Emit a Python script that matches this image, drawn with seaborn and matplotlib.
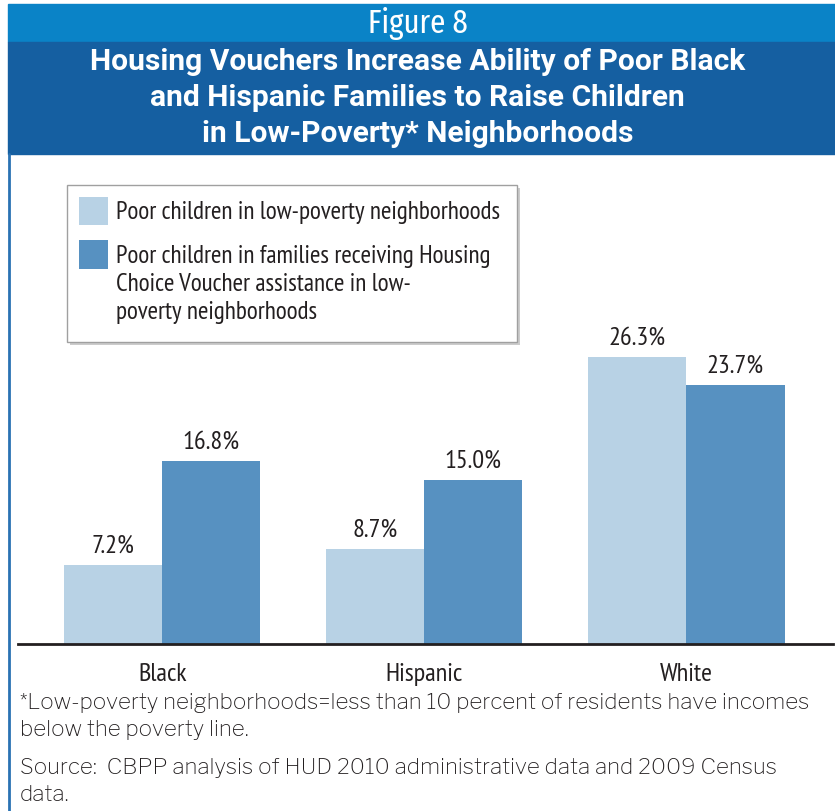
import pandas as pd
import matplotlib.pyplot as plt
import matplotlib.patches as mpatches
import seaborn as sns

# Data
groups = ['Black', 'Hispanic', 'White']
low_poverty = [7.2, 8.7, 26.3]
voucher = [16.8, 15.0, 23.7]
series_names = ['Poor children in low-poverty neighborhoods',
                'Poor children in families receiving Housing\nChoice Voucher assistance in low-\npoverty neighborhoods']
colors = ['#B8D2E5', '#5791C1']

df = pd.DataFrame({
    'group': groups * 2,
    'value': low_poverty + voucher,
    'series': [series_names[0]] * 3 + [series_names[1]] * 3,
})

sns.set_style('white')
chart_font = ['PT Sans Narrow', 'DejaVu Sans']
head_font = ['Fira Sans Extra Condensed', 'DejaVu Sans']
title_font = ['Roboto', 'DejaVu Sans']
note_font = ['Libre Franklin', 'DejaVu Sans']
plt.rcParams['font.family'] = chart_font
text_col = '#231F20'

W, H = 835, 812
fig = plt.figure(figsize=(W / 100, H / 100), dpi=100)


def fx(px):
    return px / W


def fy(py):
    return 1 - py / H


# header bands
fig.patches.append(mpatches.Rectangle((fx(8), fy(43)), fx(W - 8), 38 / H,
                                      transform=fig.transFigure, color='#0A83C7', zorder=0))
fig.patches.append(mpatches.Rectangle((fx(8), fy(155)), fx(W - 8), 112 / H,
                                      transform=fig.transFigure, color='#155FA1', zorder=0))
# side border
fig.add_artist(plt.Line2D([fx(9), fx(9)], [0, fy(155)], transform=fig.transFigure,
                          color='#2A72B3', lw=2))

fig.text(0.5, fy(24), 'Figure 8', color='white', ha='center', va='center', fontsize=24,
         family=head_font)
title_lines = ['Housing Vouchers Increase Ability of Poor Black',
               'and Hispanic Families to Raise Children',
               'in Low-Poverty* Neighborhoods']
for i, line in enumerate(title_lines):
    fig.text(0.5, fy(62 + 36 * i), line, color='white', ha='center', va='center',
             fontsize=21.6, fontweight='bold', family=title_font)

ax_top, ax_bot = 170, 645
ax = fig.add_axes([fx(18), fy(ax_bot), (833 - 18) / W, (ax_bot - ax_top) / H])
sns.barplot(data=df, x='group', y='value', hue='series', palette=colors,
            width=0.75, saturation=1, ax=ax, legend=False, linewidth=0)

px_per_unit = (645 - 358) / 26.3
ax.set_ylim(0, (ax_bot - ax_top) / px_per_unit)
ax.set_xlim(-0.55, 2.56)

for cont in ax.containers:
    ax.bar_label(cont, labels=[f'{v:.1f}%' for v in cont.datavalues], padding=6,
                 fontsize=19, color=text_col)

ax.set_xlabel('')
ax.set_ylabel('')
ax.set_yticks([])
ax.tick_params(axis='x', length=0, labelsize=19, pad=13, labelcolor=text_col)
for s in ['top', 'left', 'right']:
    ax.spines[s].set_visible(False)
ax.spines['bottom'].set_color(text_col)
ax.spines['bottom'].set_linewidth(2)

# legend box drawn by hand to match the layout
fig.patches.append(mpatches.Rectangle((fx(70), fy(346)), fx(450), 157 / H, transform=fig.transFigure,
                                      facecolor='#CCCCCC', edgecolor='none', zorder=3))
fig.patches.append(mpatches.Rectangle((fx(67), fy(343)), fx(450), 157 / H, transform=fig.transFigure,
                                      facecolor='white', edgecolor='#A0A0A0', lw=1, zorder=4))
fig.patches.append(mpatches.Rectangle((fx(79), fy(226)), fx(29), 28 / H, transform=fig.transFigure,
                                      facecolor=colors[0], edgecolor='none', zorder=5))
fig.patches.append(mpatches.Rectangle((fx(79), fy(270)), fx(29), 29 / H, transform=fig.transFigure,
                                      facecolor=colors[1], edgecolor='none', zorder=5))
legend_rows = [(series_names[0], [213])] + [(series_names[1], [257, 285, 313])]
for label, ys in legend_rows:
    for line, y in zip(label.split('\n'), ys):
        fig.text(fx(116), fy(y), line, fontsize=18.2, va='center', color=text_col, zorder=6)

notes = ['*Low-poverty neighborhoods=less than 10 percent of residents have incomes',
         'below the poverty line.',
         'Source:  CBPP analysis of HUD 2010 administrative data and 2009 Census',
         'data.']
for line, y in zip(notes, [703, 730, 768, 795]):
    fig.text(fx(20), fy(y), line, fontsize=16.1, va='center', family=note_font, color=text_col)

fig.savefig('out.png', dpi=100)
